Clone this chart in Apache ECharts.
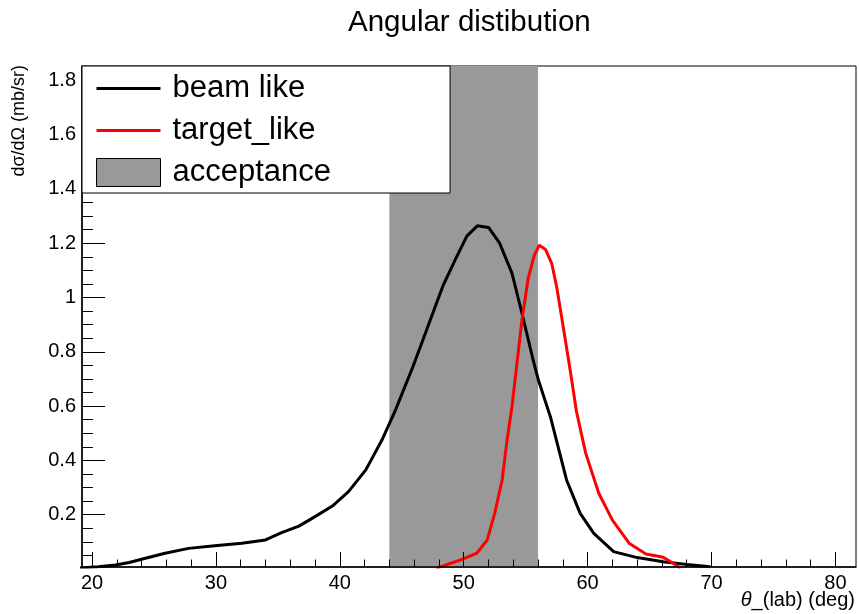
<!DOCTYPE html>
<html><head><meta charset="utf-8">
<script src="https://cdn.jsdelivr.net/npm/echarts@6/dist/echarts.min.js"></script>
<style>html,body{margin:0;padding:0;background:#fff}#c{width:859px;height:614px}</style>
</head><body><div id="c"></div>
<script>
// ---- data ----
const beamX = [19.0, 20.5, 21.9, 23.0, 24.0, 25.9, 27.8, 29.9, 32.1, 34.0, 35.3, 36.7, 38.0, 39.4, 40.7, 42.1, 43.4, 44.5, 45.9, 47.1, 48.35, 49.3, 50.25, 51.1, 52.0, 52.9, 53.9, 54.7, 55.6, 56.0, 57.0, 58.3, 59.4, 60.5, 62.1, 64.0, 66.1, 68.0, 69.9];
const beamY = [0.004, 0.008, 0.015, 0.024, 0.036, 0.058, 0.076, 0.086, 0.095, 0.107, 0.134, 0.158, 0.193, 0.232, 0.285, 0.365, 0.475, 0.586, 0.745, 0.892, 1.046, 1.138, 1.226, 1.264, 1.258, 1.2, 1.089, 0.942, 0.770, 0.70, 0.56, 0.328, 0.205, 0.131, 0.064, 0.042, 0.027, 0.017, 0.008];
const targetX = [47.8, 49.7, 51.05, 51.9, 52.5, 53.1, 53.5, 53.9, 54.7, 55.2, 55.7, 56.1, 56.6, 57.1, 57.5, 57.9, 58.6, 59.1, 59.85, 60.9, 62.0, 63.35, 64.7, 66.1, 66.9, 67.5];
const targetY = [0.003, 0.033, 0.058, 0.107, 0.205, 0.328, 0.475, 0.6, 0.917, 1.07, 1.156, 1.193, 1.177, 1.126, 1.04, 0.929, 0.73, 0.58, 0.426, 0.279, 0.18, 0.095, 0.055, 0.043, 0.021, 0.003];
const acceptanceRange = [44, 56];
const seriesNames = ['beam like', 'target_like', 'acceptance'];
const xMajorTicks = [20, 30, 40, 50, 60, 70, 80];
const xMinorTicks = [22, 24, 26, 28, 32, 34, 36, 38, 42, 44, 46, 48, 52, 54, 56, 58, 62, 64, 66, 68, 72, 74, 76, 78];
const yMajorTicks = [0.2, 0.4, 0.6, 0.8, 1.0, 1.2, 1.4, 1.6, 1.8];
const yMinorTicks = [0.05, 0.1, 0.15, 0.25, 0.3, 0.35, 0.45, 0.5, 0.55, 0.65, 0.7, 0.75, 0.85, 0.9, 0.95, 1.05, 1.1, 1.15, 1.25, 1.3, 1.35, 1.45, 1.5, 1.55, 1.65, 1.7, 1.75, 1.85];
const xRange = [19.193, 81.66];
const yRange = [0.0074, 1.8527];
const titleText = 'Angular distibution';
const xTitle = '{i|θ}_(lab) (deg)';
const yTitle = 'dσ/dΩ (mb/sr)';

// ---- chart ----
const FONT = "'Liberation Sans', Arial, Helvetica, sans-serif";
const LINE_ICON = 'path://M0,0H64V3H0Z';
const zip = (xs, ys) => xs.map((x, i) => [x, ys[i]]);
const chart = echarts.init(document.getElementById('c'), null, {renderer: 'canvas'});

function xAxisBase(extra) {
  return Object.assign({
    type: 'value', min: xRange[0], max: xRange[1], position: 'bottom',
    splitLine: {show: false}, z: 10
  }, extra);
}
function yAxisBase(extra) {
  return Object.assign({
    type: 'value', min: yRange[0], max: yRange[1], position: 'left',
    splitLine: {show: false}, z: 10
  }, extra);
}

chart.setOption({
  animation: false,
  backgroundColor: '#ffffff',
  title: {
    text: titleText, left: 348, top: 8, padding: 0,
    textStyle: {fontFamily: FONT, fontSize: 29.5, fontWeight: 'normal', color: '#000'}
  },
  grid: {
    left: 82, right: 3, top: 66, bottom: 47, show: true,
    containLabel: false, outerBoundsMode: 'none',
    borderColor: '#000', borderWidth: 1, backgroundColor: '#fff'
  },
  legend: {
    orient: 'vertical', left: 82, top: 66,
    padding: [7, 119, 5, 14],
    itemWidth: 64, itemHeight: 28, itemGap: 11,
    backgroundColor: '#fff', borderColor: '#000', borderWidth: 1,
    selectedMode: false, z: 20,
    textStyle: {fontFamily: FONT, fontSize: 31, color: '#000', padding: [0, 0, 0, 7]},
    data: [
      {name: seriesNames[0], icon: LINE_ICON, itemStyle: {color: '#000', borderWidth: 0}},
      {name: seriesNames[1], icon: LINE_ICON, itemStyle: {color: '#ff0000', borderWidth: 0}},
      {name: seriesNames[2], icon: 'rect', itemStyle: {color: '#999999', borderColor: '#000', borderWidth: 1}}
    ]
  },
  xAxis: [
    xAxisBase({
      axisLine: {show: true, onZero: false, lineStyle: {color: '#000', width: 1.5}},
      axisTick: {show: true, inside: true, length: 15, customValues: xMajorTicks, lineStyle: {color: '#000', width: 1}},
      axisLabel: {show: true, customValues: xMajorTicks, margin: 6, fontFamily: FONT, fontSize: 20, color: '#000'}
    }),
    xAxisBase({
      axisLine: {show: false},
      axisTick: {show: true, inside: true, length: 7.5, customValues: xMinorTicks, lineStyle: {color: '#000', width: 1}},
      axisLabel: {show: false}
    })
  ],
  yAxis: [
    yAxisBase({
      axisLine: {show: true, onZero: false, lineStyle: {color: '#000', width: 1.5}},
      axisTick: {show: true, inside: true, length: 23, customValues: yMajorTicks, lineStyle: {color: '#000', width: 1}},
      axisLabel: {show: true, customValues: yMajorTicks, margin: 6, fontFamily: FONT, fontSize: 20, color: '#000'}
    }),
    yAxisBase({
      axisLine: {show: false},
      axisTick: {show: true, inside: true, length: 11, customValues: yMinorTicks, lineStyle: {color: '#000', width: 1}},
      axisLabel: {show: false}
    })
  ],
  graphic: [
    {
      type: 'text', x: 19, y: 65, rotation: Math.PI / 2, z: 30,
      style: {text: yTitle, fontFamily: FONT, fontSize: 18, fill: '#000', align: 'right', verticalAlign: 'middle'}
    },
    {
      type: 'text', x: 855, y: 600, z: 30,
      style: {
        text: xTitle, fontFamily: FONT, fontSize: 20, fill: '#000', align: 'right', verticalAlign: 'middle',
        rich: {i: {fontFamily: FONT, fontSize: 20, fontStyle: 'italic', fill: '#000'}}
      }
    }
  ],
  series: [
    {
      name: seriesNames[2], type: 'line', data: [], z: 1,
      color: '#999999', symbol: 'none',
      markArea: {
        silent: true,
        itemStyle: {color: '#999999', opacity: 1},
        data: [[{xAxis: acceptanceRange[0]}, {xAxis: acceptanceRange[1]}]]
      }
    },
    {
      name: seriesNames[0], type: 'line', data: zip(beamX, beamY), z: 3,
      symbol: 'none', showSymbol: false, smooth: false, clip: true,
      color: '#000', lineStyle: {color: '#000', width: 3}
    },
    {
      name: seriesNames[1], type: 'line', data: zip(targetX, targetY), z: 4,
      symbol: 'none', showSymbol: false, smooth: false, clip: true,
      color: '#ff0000', lineStyle: {color: '#ff0000', width: 3}
    }
  ]
});
</script>
</body></html>
